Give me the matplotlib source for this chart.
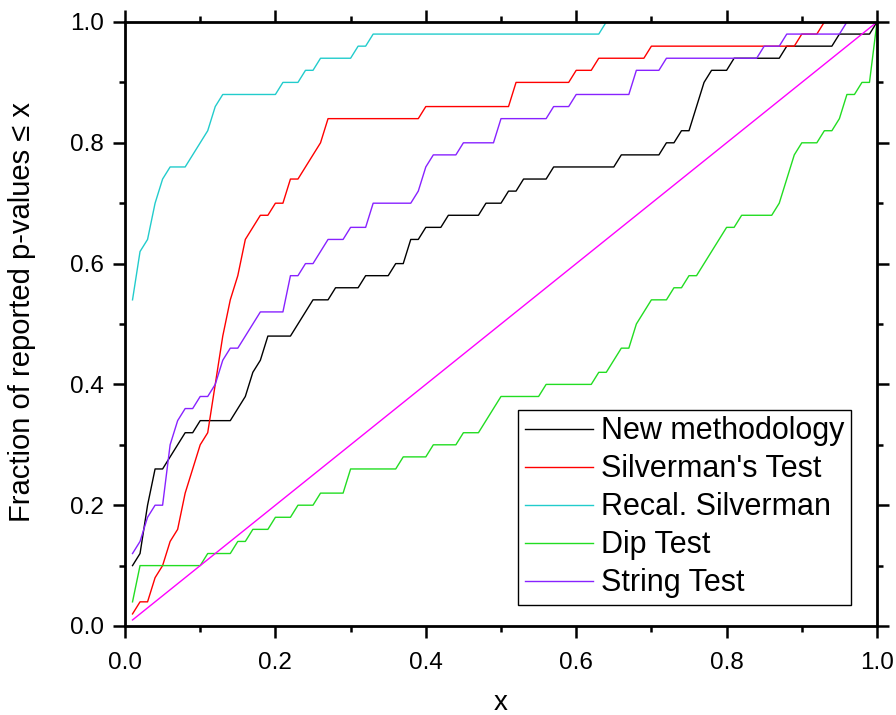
import numpy as np
import matplotlib
matplotlib.use("Agg")
import matplotlib.pyplot as plt
from matplotlib.ticker import MultipleLocator, FormatStrFormatter

# vertices of each cumulative curve
new_x = [0.01, 0.02, 0.03, 0.04, 0.05, 0.06, 0.07, 0.08, 0.09, 0.10, 0.14, 0.15, 0.16, 0.17,
         0.18, 0.19, 0.22, 0.23, 0.24, 0.25, 0.27, 0.28, 0.31, 0.32, 0.35, 0.36, 0.37, 0.38,
         0.39, 0.40, 0.42, 0.43, 0.47, 0.48, 0.50, 0.51, 0.52, 0.53, 0.56, 0.57, 0.65, 0.66,
         0.71, 0.72, 0.73, 0.74, 0.75, 0.76, 0.77, 0.78, 0.80, 0.81, 0.87, 0.88, 0.94, 0.95,
         0.99, 1.00]
new_y = [0.10, 0.12, 0.20, 0.26, 0.26, 0.28, 0.30, 0.32, 0.32, 0.34, 0.34, 0.36, 0.38, 0.42,
         0.44, 0.48, 0.48, 0.50, 0.52, 0.54, 0.54, 0.56, 0.56, 0.58, 0.58, 0.60, 0.60, 0.64,
         0.64, 0.66, 0.66, 0.68, 0.68, 0.70, 0.70, 0.72, 0.72, 0.74, 0.74, 0.76, 0.76, 0.78,
         0.78, 0.80, 0.80, 0.82, 0.82, 0.86, 0.90, 0.92, 0.92, 0.94, 0.94, 0.96, 0.96, 0.98,
         0.98, 1.00]

silv_x = [0.01, 0.02, 0.03, 0.04, 0.05, 0.06, 0.07, 0.08, 0.09, 0.10, 0.11, 0.12, 0.13, 0.14,
          0.15, 0.16, 0.17, 0.18, 0.19, 0.20, 0.21, 0.22, 0.23, 0.24, 0.25, 0.26, 0.27, 0.39,
          0.40, 0.51, 0.52, 0.59, 0.60, 0.62, 0.63, 0.69, 0.70, 0.89, 0.90, 0.92, 0.93, 1.00]
silv_y = [0.02, 0.04, 0.04, 0.08, 0.10, 0.14, 0.16, 0.22, 0.26, 0.30, 0.32, 0.40, 0.48, 0.54,
          0.58, 0.64, 0.66, 0.68, 0.68, 0.70, 0.70, 0.74, 0.74, 0.76, 0.78, 0.80, 0.84, 0.84,
          0.86, 0.86, 0.90, 0.90, 0.92, 0.92, 0.94, 0.94, 0.96, 0.96, 0.98, 0.98, 1.00, 1.00]

recal_x = [0.01, 0.02, 0.03, 0.04, 0.05, 0.06, 0.08, 0.09, 0.10, 0.11, 0.12, 0.13, 0.20, 0.21,
           0.23, 0.24, 0.25, 0.26, 0.30, 0.31, 0.32, 0.33, 0.63, 0.64, 1.00]
recal_y = [0.54, 0.62, 0.64, 0.70, 0.74, 0.76, 0.76, 0.78, 0.80, 0.82, 0.86, 0.88, 0.88, 0.90,
           0.90, 0.92, 0.92, 0.94, 0.94, 0.96, 0.96, 0.98, 0.98, 1.00, 1.00]

dip_x = [0.01, 0.02, 0.10, 0.11, 0.14, 0.15, 0.16, 0.17, 0.19, 0.20, 0.22, 0.23, 0.25, 0.26,
         0.29, 0.30, 0.36, 0.37, 0.40, 0.41, 0.44, 0.45, 0.47, 0.48, 0.49, 0.50, 0.55, 0.56,
         0.62, 0.63, 0.64, 0.65, 0.66, 0.67, 0.68, 0.69, 0.70, 0.72, 0.73, 0.74, 0.75, 0.76,
         0.77, 0.78, 0.79, 0.80, 0.81, 0.82, 0.86, 0.87, 0.88, 0.89, 0.90, 0.92, 0.93, 0.94,
         0.95, 0.96, 0.97, 0.98, 0.99, 1.00]
dip_y = [0.04, 0.10, 0.10, 0.12, 0.12, 0.14, 0.14, 0.16, 0.16, 0.18, 0.18, 0.20, 0.20, 0.22,
         0.22, 0.26, 0.26, 0.28, 0.28, 0.30, 0.30, 0.32, 0.32, 0.34, 0.36, 0.38, 0.38, 0.40,
         0.40, 0.42, 0.42, 0.44, 0.46, 0.46, 0.50, 0.52, 0.54, 0.54, 0.56, 0.56, 0.58, 0.58,
         0.60, 0.62, 0.64, 0.66, 0.66, 0.68, 0.68, 0.70, 0.74, 0.78, 0.80, 0.80, 0.82, 0.82,
         0.84, 0.88, 0.88, 0.90, 0.90, 1.00]

string_x = [0.01, 0.02, 0.03, 0.04, 0.05, 0.06, 0.07, 0.08, 0.09, 0.10, 0.11, 0.12, 0.13, 0.14,
            0.15, 0.16, 0.17, 0.18, 0.21, 0.22, 0.23, 0.24, 0.25, 0.26, 0.27, 0.29, 0.30, 0.32,
            0.33, 0.38, 0.39, 0.40, 0.41, 0.44, 0.45, 0.49, 0.50, 0.56, 0.57, 0.59, 0.60, 0.67,
            0.68, 0.71, 0.72, 0.84, 0.85, 0.87, 0.88, 0.95, 0.96, 1.00]
string_y = [0.12, 0.14, 0.18, 0.20, 0.20, 0.30, 0.34, 0.36, 0.36, 0.38, 0.38, 0.40, 0.44, 0.46,
            0.46, 0.48, 0.50, 0.52, 0.52, 0.58, 0.58, 0.60, 0.60, 0.62, 0.64, 0.64, 0.66, 0.66,
            0.70, 0.70, 0.72, 0.76, 0.78, 0.78, 0.80, 0.80, 0.84, 0.84, 0.86, 0.86, 0.88, 0.88,
            0.92, 0.92, 0.94, 0.94, 0.96, 0.96, 0.98, 0.98, 1.00, 1.00]

diag_x = [0.01, 1.00]
diag_y = [0.01, 1.00]

plt.rcParams['font.family'] = ['Liberation Sans', 'DejaVu Sans']

fig = plt.figure(figsize=(8.96, 7.15), dpi=100)
ax = fig.add_axes([125 / 896, 89 / 715, 752 / 896, 604 / 715])

ax.plot(new_x, new_y, color='black', lw=1, label='New methodology')
ax.plot(silv_x, silv_y, color='#ff0000', lw=1, label="Silverman's Test")
ax.plot(recal_x, recal_y, color='#22cccc', lw=1, label='Recal. Silverman')
ax.plot(dip_x, dip_y, color='#22dd22', lw=1, label='Dip Test')
ax.plot(string_x, string_y, color='#8822ff', lw=1, label='String Test')
ax.plot(diag_x, diag_y, color='#ff00ff', lw=1)

ax.set_xlim(0, 1)
ax.set_ylim(0, 1)
ax.xaxis.set_major_locator(MultipleLocator(0.2))
ax.xaxis.set_minor_locator(MultipleLocator(0.1))
ax.yaxis.set_major_locator(MultipleLocator(0.2))
ax.yaxis.set_minor_locator(MultipleLocator(0.1))
ax.xaxis.set_major_formatter(FormatStrFormatter('%.1f'))
ax.yaxis.set_major_formatter(FormatStrFormatter('%.1f'))
ax.tick_params(which='both', direction='out', top=True, right=True, width=1.8,
               labelsize=17.5)
ax.tick_params(which='major', length=8.5)
ax.tick_params(which='minor', length=4.3)
ax.tick_params(axis='x', which='major', pad=10)
ax.tick_params(axis='y', which='major', pad=6.5)
for s in ax.spines.values():
    s.set_linewidth(2)

ax.set_xlabel('x', fontsize=20)
ax.xaxis.set_label_coords(0.5, -0.106)
ax.set_ylabel('Fraction of reported p-values \u2264 x', fontsize=21)
ax.yaxis.set_label_coords(-0.118, 0.52)

leg = ax.legend(loc='lower left', bbox_to_anchor=(0.5226, 0.0348), borderaxespad=0,
                fontsize=22, fancybox=False, edgecolor='black', framealpha=1,
                handlelength=2.25, handletextpad=0.25, labelspacing=0.26, borderpad=0.22)
leg.get_frame().set_linewidth(1)

fig.savefig('out.png', dpi=100)
